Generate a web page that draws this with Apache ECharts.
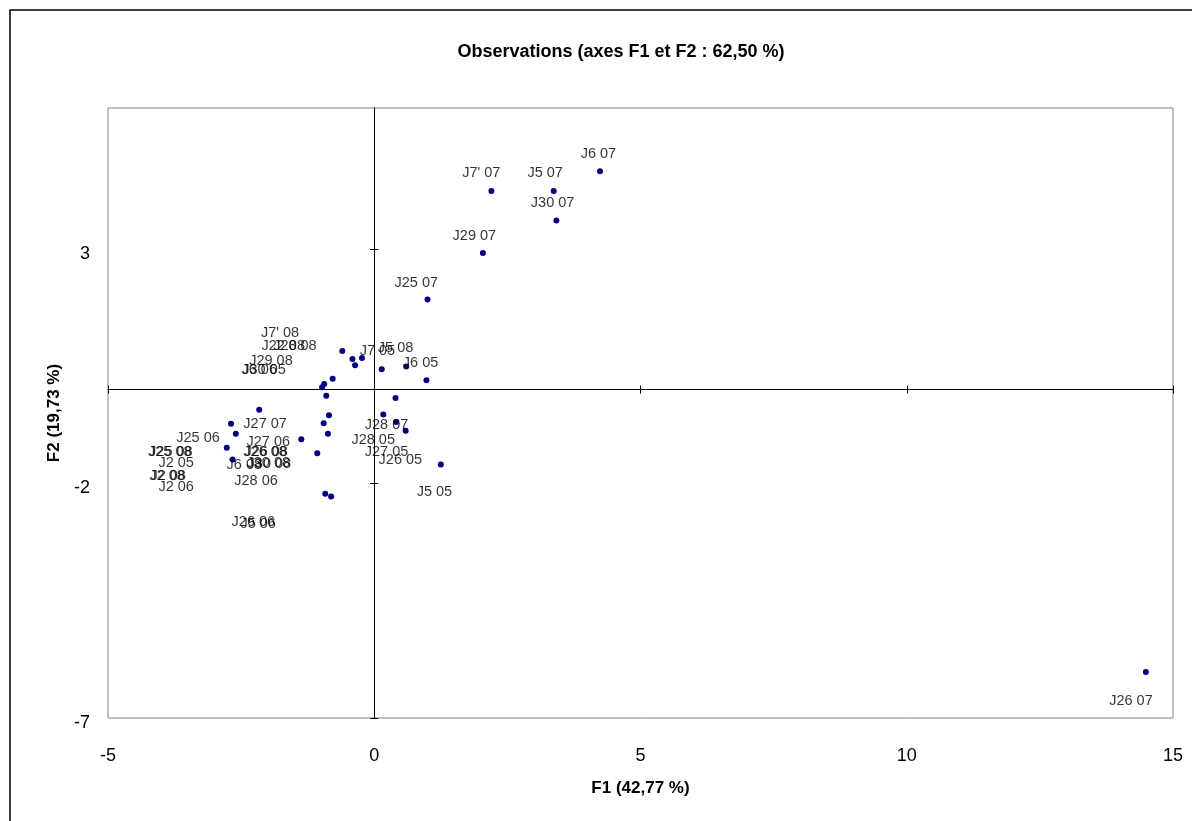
<!DOCTYPE html>
<html>
<head>
<meta charset="utf-8">
<title>Observations</title>
<script src="https://cdn.jsdelivr.net/npm/echarts@6/dist/echarts.min.js"></script>
<style>
  html, body { margin: 0; padding: 0; background: #fff; }
  #chart { width: 1192px; height: 821px; }
</style>
</head>
<body>
<div id="chart"></div>
<script>
// observation points (F1, F2)
var pointX = [4.24, 2.20, 3.37, 3.42, 2.04, 1.00, 14.49,
  -0.60, -0.41, -0.36, -0.23, 0.14, 0.60, 0.98, -0.78, -0.94, -0.98, -0.90, 0.40,
  -0.85, -0.95, -0.87, -1.37, -1.07, 0.17, 0.41, 0.59, 1.25, -0.92, -0.81,
  -2.16, -2.69, -2.60, -2.77, -2.66];
var pointY = [4.65, 4.23, 4.23, 3.60, 2.91, 1.92, -6.02,
  0.82, 0.65, 0.52, 0.67, 0.43, 0.49, 0.20, 0.23, 0.12, 0.05, -0.13, -0.18,
  -0.55, -0.72, -0.94, -1.06, -1.36, -0.53, -0.69, -0.88, -1.60, -2.22, -2.28,
  -0.43, -0.73, -0.94, -1.24, -1.49];

// labels as placed in the picture
var labelText = ['J6 07', "J7' 07", 'J5 07', 'J30 07', 'J29 07', 'J25 07', 'J26 07',
  "J7' 08", 'J22 08', 'J28 08', 'J29 08', 'J30 05', 'J6 06',
  'J7 05', 'J5 08', 'J6 05', 'J28 07', 'J28 05', 'J27 05', 'J26 05', 'J5 05',
  'J27 07', 'J25 06', 'J27 06', 'J26 08', 'J26 08', 'J25 08', 'J25 08',
  'J2 05', 'J6 08', 'J30 08', 'J30 08', 'J2 08', 'J2 08', 'J2 06', 'J28 06',
  'J26 06', 'J5 06'];
var labelX = [4.21, 2.01, 3.21, 3.35, 1.88, 0.79, 14.21,
  -1.77, -1.71, -1.49, -1.94, -2.07, -2.16,
  0.06, 0.40, 0.87, 0.23, -0.02, 0.23, 0.49, 1.13,
  -2.05, -3.31, -1.99, -2.05, -2.03, -3.84, -3.82,
  -3.72, -2.44, -1.99, -1.97, -3.89, -3.87, -3.72, -2.22,
  -2.27, -2.18];
var labelY = [5.09, 4.68, 4.68, 4.04, 3.34, 2.34, -6.57,
  1.26, 1.00, 1.00, 0.68, 0.49, 0.49,
  0.89, 0.94, 0.62, -0.70, -1.02, -1.26, -1.43, -2.11,
  -0.68, -0.96, -1.06, -1.26, -1.27, -1.26, -1.27,
  -1.51, -1.55, -1.51, -1.52, -1.77, -1.78, -2.02, -1.89,
  -2.75, -2.81];

var xTicks = [-5, 0, 5, 10, 15];
var yTicks = [-7, -2, 3];

var chart = echarts.init(document.getElementById('chart'));

var points = pointX.map(function (x, i) { return [x, pointY[i]]; });
var labels = labelText.map(function (t, i) {
  return { name: t, value: [labelX[i], labelY[i]] };
});

var font = 'Arial, "Liberation Sans", sans-serif';

// axes crossing at zero, ticks on both sides
var crossX = function (pos) {
  return {
    type: 'value', min: -5, max: 15, position: pos,
    axisLine: { show: pos === 'bottom', onZero: true, onZeroAxisIndex: 0, lineStyle: { color: '#000', width: 1 } },
    axisTick: { show: true, length: 4, customValues: xTicks, lineStyle: { color: '#000' } },
    axisLabel: { show: false }, splitLine: { show: false }
  };
};
var crossY = function (pos) {
  return {
    type: 'value', min: -7, max: 6, position: pos,
    axisLine: { show: pos === 'left', onZero: true, onZeroAxisIndex: 0, lineStyle: { color: '#000', width: 1 } },
    axisTick: { show: true, length: 4, customValues: yTicks, lineStyle: { color: '#000' } },
    axisLabel: { show: false }, splitLine: { show: false }
  };
};

chart.setOption({
  animation: false,
  backgroundColor: '#fff',
  graphic: [
    { type: 'rect', shape: { x: 10, y: 10, width: 1300, height: 900 },
      style: { fill: null, stroke: '#000', lineWidth: 1.5 }, silent: true, z: -1 },
    { type: 'text', x: 621, y: 52,
      style: { text: 'Observations (axes F1 et F2 : 62,50 %)', align: 'center', verticalAlign: 'middle',
               font: 'bold 18px ' + font, fill: '#000' } }
  ],
  grid: { left: 108, right: 19, top: 108, bottom: 103, show: true, borderColor: '#808080', borderWidth: 1, backgroundColor: '#fff' },
  xAxis: [
    {
      type: 'value', min: -5, max: 15, interval: 5, position: 'bottom',
      name: 'F1 (42,77 %)', nameLocation: 'middle', nameGap: 62,
      nameTextStyle: { fontFamily: font, fontWeight: 'bold', fontSize: 17, color: '#000' },
      axisLine: { show: false, onZero: false }, axisTick: { show: false },
      axisLabel: { fontFamily: font, fontSize: 18, color: '#000', margin: 29 },
      splitLine: { show: false }
    },
    crossX('bottom'), crossX('top')
  ],
  yAxis: [
    {
      type: 'value', min: -7, max: 6, position: 'left',
      name: 'F2 (19,73 %)', nameLocation: 'middle', nameGap: 42, nameRotate: 90,
      nameTextStyle: { fontFamily: font, fontWeight: 'bold', fontSize: 17, color: '#000' },
      axisLine: { show: false, onZero: false }, axisTick: { show: false },
      axisLabel: { fontFamily: font, fontSize: 18, color: '#000', margin: 18, customValues: yTicks,
                   verticalAlign: 'top', lineHeight: 10 },
      splitLine: { show: false }
    },
    crossY('left'), crossY('right')
  ],
  series: [
    {
      type: 'scatter', xAxisIndex: 0, yAxisIndex: 0, data: points,
      symbol: 'circle', symbolSize: 6, itemStyle: { color: '#000080', opacity: 1 }, z: 3
    },
    {
      type: 'scatter', xAxisIndex: 0, yAxisIndex: 0, data: labels,
      symbolSize: 0, silent: true, z: 4,
      label: { show: true, position: 'inside', offset: [0, 3], formatter: '{b}', fontFamily: font, fontSize: 14.5, color: '#000' }
    }
  ]
});
</script>
</body>
</html>
